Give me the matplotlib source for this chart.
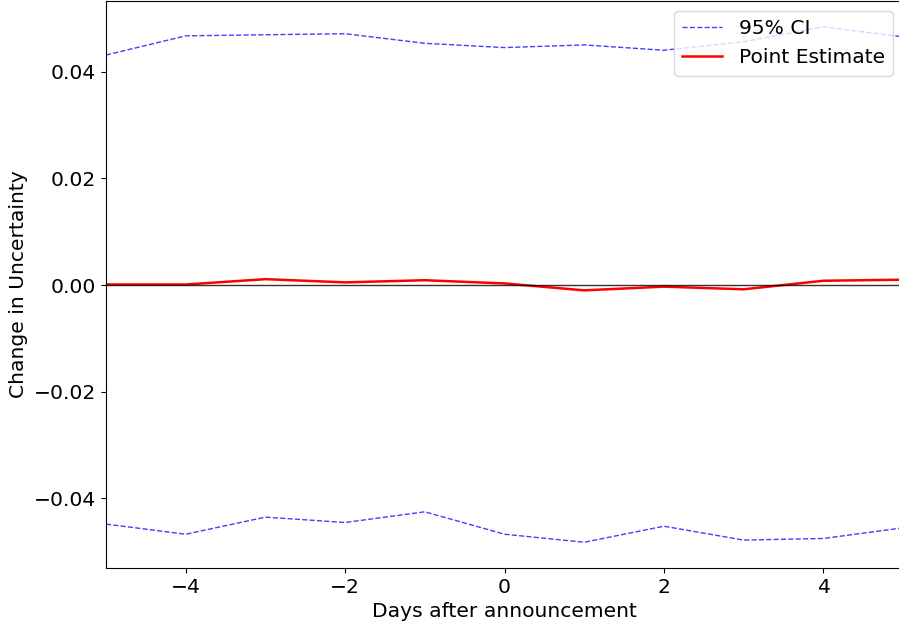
import numpy as np
import matplotlib
matplotlib.use("Agg")
import matplotlib.pyplot as plt

days = [-5, -4, -3, -2, -1, 0, 1, 2, 3, 4, 5]
point_est = [0.0001, 0.0001, 0.0011, 0.0005, 0.0009, 0.0003, -0.0010, -0.0003, -0.0008, 0.0008, 0.0010]
ci_upper = [0.0431, 0.0467, 0.0469, 0.0471, 0.0453, 0.0445, 0.0450, 0.0440, 0.0456, 0.0484, 0.0465]
ci_lower = [-0.0448, -0.0467, -0.0435, -0.0445, -0.0425, -0.0467, -0.0482, -0.0452, -0.0478, -0.0475, -0.0455]

plt.rcParams['font.size'] = 14.6

fig = plt.figure(figsize=(8.99, 6.25), dpi=100)
ax = fig.add_axes([106 / 899, 57 / 625, 797 / 899, 567 / 625])

ax.plot(days, ci_upper, color='blue', ls='--', lw=1, alpha=0.75, label='95% CI')
ax.plot(days, point_est, color='red', lw=1.8, label='Point Estimate')
ax.plot(days, ci_lower, color='blue', ls='--', lw=1, alpha=0.75)
ax.axhline(0, color='black', lw=1, alpha=0.8)

ax.set_xlim(-5, 5)
ax.set_xlabel('Days after announcement')
ax.set_ylabel('Change in Uncertainty')
ax.legend(loc='upper right')

fig.savefig('out.png', dpi=100)
